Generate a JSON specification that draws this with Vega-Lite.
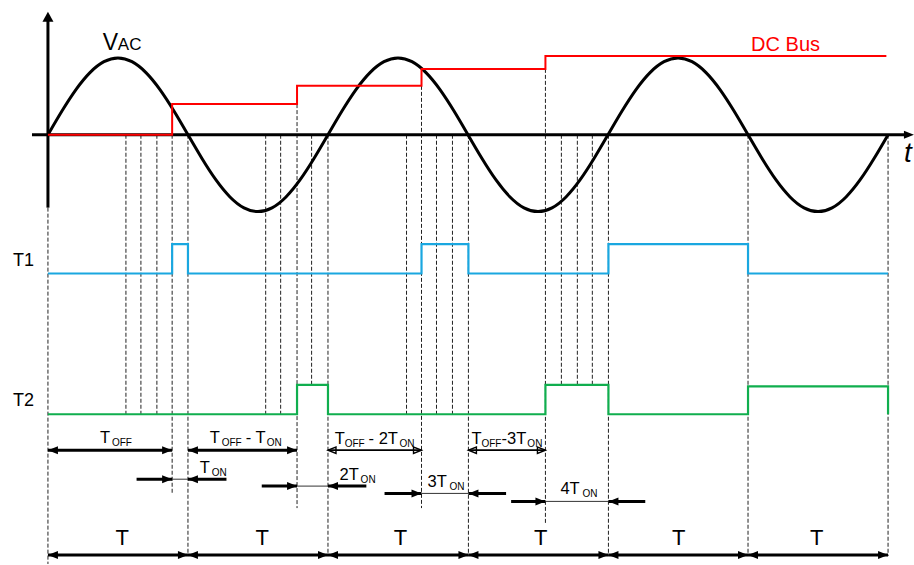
{
  "$schema": "https://vega.github.io/schema/vega-lite/v6.json",
  "width": 914,
  "height": 565,
  "padding": 0,
  "autosize": {"type": "fit", "contains": "padding"},
  "background": "white",
  "config": {"view": {"stroke": null}, "text": {"font": "Liberation Sans"}},
  "datasets": {
    "vlines": [
      {"t": 0, "v": -0.948, "v2": -5.584},
      {"t": 0.557, "v": 0, "v2": -3.636},
      {"t": 0.664, "v": 0, "v2": -3.636},
      {"t": 0.778, "v": 0, "v2": -3.636},
      {"t": 0.887, "v": 0, "v2": -4.662},
      {"t": 1.0, "v": 0, "v2": -5.481},
      {"t": 1.555, "v": 0, "v2": -3.636},
      {"t": 1.662, "v": 0, "v2": -3.636},
      {"t": 1.779, "v": 0.399, "v2": -4.857},
      {"t": 1.883, "v": 0, "v2": -3.253},
      {"t": 2.0, "v": 0, "v2": -5.481},
      {"t": 2.561, "v": 0, "v2": -3.636},
      {"t": 2.668, "v": 0.636, "v2": -4.857},
      {"t": 2.775, "v": 0, "v2": -3.636},
      {"t": 2.889, "v": 0, "v2": -3.636},
      {"t": 3.003, "v": 0, "v2": -5.481},
      {"t": 3.553, "v": 0.857, "v2": -5.065},
      {"t": 3.667, "v": 0, "v2": -3.253},
      {"t": 3.781, "v": 0, "v2": -3.253},
      {"t": 3.888, "v": 0, "v2": -3.253},
      {"t": 4.003, "v": 0, "v2": -5.481},
      {"t": 5.0, "v": 0, "v2": -5.481},
      {"t": 6.0, "v": 0, "v2": -5.481}
    ],
    "axes": [
      {"t": -0.114, "t2": 6.15, "v": 0, "v2": 0},
      {"t": 0, "t2": 0, "v": -0.948, "v2": 1.5}
    ],
    "sine": [
      {"t": 0.0, "v": 0}, {"t": 0.1, "v": 0.309}, {"t": 0.2, "v": 0.588}, {"t": 0.3, "v": 0.809}, {"t": 0.4, "v": 0.951},
      {"t": 0.5, "v": 1}, {"t": 0.6, "v": 0.951}, {"t": 0.7, "v": 0.809}, {"t": 0.8, "v": 0.588}, {"t": 0.9, "v": 0.309},
      {"t": 1.0, "v": 0}, {"t": 1.1, "v": -0.309}, {"t": 1.2, "v": -0.588}, {"t": 1.3, "v": -0.809}, {"t": 1.4, "v": -0.951},
      {"t": 1.5, "v": -1}, {"t": 1.6, "v": -0.951}, {"t": 1.7, "v": -0.809}, {"t": 1.8, "v": -0.588}, {"t": 1.9, "v": -0.309},
      {"t": 2.0, "v": 0}, {"t": 2.1, "v": 0.309}, {"t": 2.2, "v": 0.588}, {"t": 2.3, "v": 0.809}, {"t": 2.4, "v": 0.951},
      {"t": 2.5, "v": 1}, {"t": 2.6, "v": 0.951}, {"t": 2.7, "v": 0.809}, {"t": 2.8, "v": 0.588}, {"t": 2.9, "v": 0.309},
      {"t": 3.0, "v": 0}, {"t": 3.1, "v": -0.309}, {"t": 3.2, "v": -0.588}, {"t": 3.3, "v": -0.809}, {"t": 3.4, "v": -0.951},
      {"t": 3.5, "v": -1}, {"t": 3.6, "v": -0.951}, {"t": 3.7, "v": -0.809}, {"t": 3.8, "v": -0.588}, {"t": 3.9, "v": -0.309},
      {"t": 4.0, "v": 0}, {"t": 4.1, "v": 0.309}, {"t": 4.2, "v": 0.588}, {"t": 4.3, "v": 0.809}, {"t": 4.4, "v": 0.951},
      {"t": 4.5, "v": 1}, {"t": 4.6, "v": 0.951}, {"t": 4.7, "v": 0.809}, {"t": 4.8, "v": 0.588}, {"t": 4.9, "v": 0.309},
      {"t": 5.0, "v": 0}, {"t": 5.1, "v": -0.309}, {"t": 5.2, "v": -0.588}, {"t": 5.3, "v": -0.809}, {"t": 5.4, "v": -0.951},
      {"t": 5.5, "v": -1}, {"t": 5.6, "v": -0.951}, {"t": 5.7, "v": -0.809}, {"t": 5.8, "v": -0.588}, {"t": 5.9, "v": -0.309},
      {"t": 6.0, "v": 0}
    ],
    "t1": [
      {"i": 0, "t": 0, "v": -1.805}, {"i": 1, "t": 0.887, "v": -1.805}, {"i": 2, "t": 0.887, "v": -1.422},
      {"i": 3, "t": 1.0, "v": -1.422}, {"i": 4, "t": 1.0, "v": -1.805}, {"i": 5, "t": 2.668, "v": -1.805},
      {"i": 6, "t": 2.668, "v": -1.422}, {"i": 7, "t": 3.003, "v": -1.422}, {"i": 8, "t": 3.003, "v": -1.805},
      {"i": 9, "t": 4.003, "v": -1.805}, {"i": 10, "t": 4.003, "v": -1.422}, {"i": 11, "t": 5.0, "v": -1.422},
      {"i": 12, "t": 5.0, "v": -1.805}, {"i": 13, "t": 6.0, "v": -1.805}
    ],
    "t2": [
      {"i": 0, "t": 0, "v": -3.636}, {"i": 1, "t": 1.779, "v": -3.636}, {"i": 2, "t": 1.779, "v": -3.253},
      {"i": 3, "t": 2.0, "v": -3.253}, {"i": 4, "t": 2.0, "v": -3.636}, {"i": 5, "t": 3.553, "v": -3.636},
      {"i": 6, "t": 3.553, "v": -3.253}, {"i": 7, "t": 4.003, "v": -3.253}, {"i": 8, "t": 4.003, "v": -3.636},
      {"i": 9, "t": 5.0, "v": -3.636}, {"i": 10, "t": 5.0, "v": -3.273}, {"i": 11, "t": 6.0, "v": -3.273},
      {"i": 12, "t": 6.0, "v": -3.636}
    ],
    "bus": [
      {"i": 0, "t": 0, "v": 0}, {"i": 1, "t": 0.887, "v": 0}, {"i": 2, "t": 0.887, "v": 0.399},
      {"i": 3, "t": 1.779, "v": 0.399}, {"i": 4, "t": 1.779, "v": 0.636}, {"i": 5, "t": 2.668, "v": 0.636},
      {"i": 6, "t": 2.668, "v": 0.857}, {"i": 7, "t": 3.553, "v": 0.857}, {"i": 8, "t": 3.553, "v": 1.026},
      {"i": 9, "t": 5.988, "v": 1.026}
    ],
    "shafts": [
      {"t": 0, "t2": 0.887, "v": -4.104, "w": "thick"},
      {"t": 1.0, "t2": 1.779, "v": -4.104, "w": "thick"},
      {"t": 2.0, "t2": 2.668, "v": -4.104, "w": "med"},
      {"t": 3.003, "t2": 3.553, "v": -4.104, "w": "med"},
      {"t": 0.633, "t2": 0.887, "v": -4.481, "w": "thick"},
      {"t": 0.887, "t2": 1.0, "v": -4.481, "w": "thin"},
      {"t": 1.0, "t2": 1.275, "v": -4.481, "w": "thick"},
      {"t": 1.527, "t2": 1.779, "v": -4.571, "w": "thick"},
      {"t": 1.779, "t2": 2.0, "v": -4.571, "w": "thin"},
      {"t": 2.0, "t2": 2.274, "v": -4.571, "w": "thick"},
      {"t": 2.404, "t2": 2.668, "v": -4.666, "w": "thick"},
      {"t": 2.668, "t2": 3.003, "v": -4.666, "w": "thin"},
      {"t": 3.003, "t2": 3.272, "v": -4.666, "w": "thick"},
      {"t": 3.308, "t2": 3.553, "v": -4.770, "w": "thick"},
      {"t": 3.553, "t2": 4.003, "v": -4.770, "w": "thin"},
      {"t": 4.003, "t2": 4.266, "v": -4.770, "w": "thick"},
      {"t": 0, "t2": 1.0, "v": -5.468, "w": "thick"},
      {"t": 1.0, "t2": 2.0, "v": -5.468, "w": "thick"},
      {"t": 2.0, "t2": 3.003, "v": -5.468, "w": "thick"},
      {"t": 3.003, "t2": 4.003, "v": -5.468, "w": "thick"},
      {"t": 4.003, "t2": 5.0, "v": -5.468, "w": "thick"},
      {"t": 5.0, "t2": 6.0, "v": -5.468, "w": "thick"}
    ],
    "heads": [
      {"t": 0, "v": -4.104, "dir": "l"}, {"t": 0.887, "v": -4.104, "dir": "r"},
      {"t": 1.0, "v": -4.104, "dir": "l"}, {"t": 1.779, "v": -4.104, "dir": "r"},
      {"t": 0.887, "v": -4.481, "dir": "r"}, {"t": 1.0, "v": -4.481, "dir": "l"},
      {"t": 1.779, "v": -4.571, "dir": "r"}, {"t": 2.0, "v": -4.571, "dir": "l"},
      {"t": 2.668, "v": -4.666, "dir": "r"}, {"t": 3.003, "v": -4.666, "dir": "l"},
      {"t": 3.553, "v": -4.770, "dir": "r"}, {"t": 4.003, "v": -4.770, "dir": "l"},
      {"t": 0, "v": -5.468, "dir": "l"}, {"t": 1.0, "v": -5.468, "dir": "r"},
      {"t": 1.0, "v": -5.468, "dir": "l"}, {"t": 2.0, "v": -5.468, "dir": "r"},
      {"t": 2.0, "v": -5.468, "dir": "l"}, {"t": 3.003, "v": -5.468, "dir": "r"},
      {"t": 3.003, "v": -5.468, "dir": "l"}, {"t": 4.003, "v": -5.468, "dir": "r"},
      {"t": 4.003, "v": -5.468, "dir": "l"}, {"t": 5.0, "v": -5.468, "dir": "r"},
      {"t": 5.0, "v": -5.468, "dir": "l"}, {"t": 6.0, "v": -5.468, "dir": "r"},
      {"t": 0, "v": 1.601, "dir": "u"}, {"t": 6.185, "v": 0, "dir": "r"}
    ],
    "openheads": [
      {"t": 2.0, "v": -4.104, "dir": "l"}, {"t": 2.668, "v": -4.104, "dir": "r"},
      {"t": 3.003, "v": -4.104, "dir": "l"}, {"t": 3.553, "v": -4.104, "dir": "r"}
    ],
    "labels": [
      {"t": 0.371, "v": -4.013, "text": "T", "role": "main"},
      {"t": 0.457, "v": -4.052, "text": "OFF", "role": "sub"},
      {"t": 1.156, "v": -4.013, "text": "T", "role": "main"},
      {"t": 1.241, "v": -4.052, "text": "OFF", "role": "sub"},
      {"t": 1.413, "v": -4.013, "text": "- T", "role": "main"},
      {"t": 1.562, "v": -4.052, "text": "ON", "role": "sub"},
      {"t": 2.048, "v": -4.026, "text": "T", "role": "main"},
      {"t": 2.119, "v": -4.065, "text": "OFF", "role": "sub"},
      {"t": 2.290, "v": -4.026, "text": "- 2T", "role": "main"},
      {"t": 2.511, "v": -4.065, "text": "ON", "role": "sub"},
      {"t": 3.025, "v": -4.026, "text": "T", "role": "main"},
      {"t": 3.096, "v": -4.065, "text": "OFF", "role": "sub"},
      {"t": 3.239, "v": -4.026, "text": "-3T", "role": "main"},
      {"t": 3.424, "v": -4.065, "text": "ON", "role": "sub"},
      {"t": 1.084, "v": -4.403, "text": "T", "role": "main"},
      {"t": 1.170, "v": -4.442, "text": "ON", "role": "sub"},
      {"t": 2.083, "v": -4.494, "text": "2T", "role": "main"},
      {"t": 2.233, "v": -4.532, "text": "ON", "role": "sub"},
      {"t": 2.711, "v": -4.584, "text": "3T", "role": "main"},
      {"t": 2.868, "v": -4.623, "text": "ON", "role": "sub"},
      {"t": 3.660, "v": -4.675, "text": "4T", "role": "main"},
      {"t": 3.817, "v": -4.714, "text": "ON", "role": "sub"},
      {"t": -0.250, "v": -1.701, "text": "T1", "role": "name"},
      {"t": -0.250, "v": -3.532, "text": "T2", "role": "name"},
      {"t": 0.392, "v": 1.104, "text": "V", "role": "vbig"},
      {"t": 0.499, "v": 1.104, "text": "AC", "role": "vsub"}
    ],
    "periods": [
      {"t": 0.531, "v": -5.338, "text": "T"},
      {"t": 1.53, "v": -5.338, "text": "T"},
      {"t": 2.518, "v": -5.338, "text": "T"},
      {"t": 3.52, "v": -5.338, "text": "T"},
      {"t": 4.505, "v": -5.338, "text": "T"},
      {"t": 5.49, "v": -5.338, "text": "T"}
    ],
    "bustext": [{"t": 5.022, "v": 1.091, "text": "DC Bus"}],
    "taxis": [{"t": 6.114, "v": -0.351, "text": "t"}]
  },
  "encoding": {
    "x": {"field": "t", "type": "quantitative", "scale": {"domain": [-0.34244, 6.17821], "nice": false, "zero": false}, "axis": null},
    "y": {"field": "v", "type": "quantitative", "scale": {"domain": [-5.5844, 1.7532], "nice": false, "zero": false}, "axis": null}
  },
  "layer": [
    {
      "data": {"name": "vlines"},
      "mark": {"type": "rule", "color": "#222222", "strokeWidth": 1, "strokeDash": [4, 2]},
      "encoding": {"y2": {"field": "v2"}}
    },
    {
      "data": {"name": "axes"},
      "mark": {"type": "rule", "color": "black", "strokeWidth": 3},
      "encoding": {"x2": {"field": "t2"}, "y2": {"field": "v2"}}
    },
    {
      "data": {"name": "sine"},
      "mark": {"type": "line", "color": "black", "strokeWidth": 3, "interpolate": "natural"},
      "encoding": {}
    },
    {
      "data": {"name": "t1"},
      "mark": {"type": "line", "color": "#1AA7E0", "strokeWidth": 2.2},
      "encoding": {"order": {"field": "i", "type": "quantitative"}}
    },
    {
      "data": {"name": "t2"},
      "mark": {"type": "line", "color": "#10AE4E", "strokeWidth": 2.2},
      "encoding": {"order": {"field": "i", "type": "quantitative"}}
    },
    {
      "data": {"name": "bus"},
      "mark": {"type": "line", "color": "#FF0000", "strokeWidth": 2},
      "encoding": {"order": {"field": "i", "type": "quantitative"}}
    },
    {
      "data": {"name": "shafts"},
      "transform": [{"filter": "datum.w == 'thick'"}],
      "mark": {"type": "rule", "color": "black", "strokeWidth": 3},
      "encoding": {"x2": {"field": "t2"}}
    },
    {
      "data": {"name": "shafts"},
      "transform": [{"filter": "datum.w == 'med'"}],
      "mark": {"type": "rule", "color": "black", "strokeWidth": 1.8},
      "encoding": {"x2": {"field": "t2"}}
    },
    {
      "data": {"name": "shafts"},
      "transform": [{"filter": "datum.w == 'thin'"}],
      "mark": {"type": "rule", "color": "#333333", "strokeWidth": 1},
      "encoding": {"x2": {"field": "t2"}}
    },
    {
      "data": {"name": "heads"},
      "mark": {"type": "point", "filled": true, "color": "black", "opacity": 1, "size": 100, "strokeWidth": 0},
      "encoding": {
        "shape": {"field": "dir", "type": "nominal", "scale": {"domain": ["r", "l", "u"], "range": ["M0,0L-2,-0.8L-2,0.8Z", "M0,0L2,-0.8L2,0.8Z", "M0,0L-1.1,2L1.1,2Z"]}, "legend": null}
      }
    },
    {
      "data": {"name": "openheads"},
      "mark": {"type": "point", "filled": false, "color": "black", "opacity": 1, "size": 64, "strokeWidth": 1.4},
      "encoding": {
        "shape": {"field": "dir", "type": "nominal", "scale": {"domain": ["r", "l"], "range": ["M-1.25,-1L0,0L-1.25,1", "M1.25,-1L0,0L1.25,1"]}, "legend": null}
      }
    },
    {
      "data": {"name": "labels"},
      "transform": [{"filter": "datum.role == 'main'"}],
      "mark": {"type": "text", "align": "left", "baseline": "alphabetic", "color": "black", "fontSize": 16.5, "font": "Liberation Sans"},
      "encoding": {"text": {"field": "text"}}
    },
    {
      "data": {"name": "labels"},
      "transform": [{"filter": "datum.role == 'sub'"}],
      "mark": {"type": "text", "align": "left", "baseline": "alphabetic", "color": "black", "fontSize": 10, "font": "Liberation Sans"},
      "encoding": {"text": {"field": "text"}}
    },
    {
      "data": {"name": "labels"},
      "transform": [{"filter": "datum.role == 'name'"}],
      "mark": {"type": "text", "align": "left", "baseline": "alphabetic", "color": "black", "fontSize": 18, "font": "Liberation Sans"},
      "encoding": {"text": {"field": "text"}}
    },
    {
      "data": {"name": "labels"},
      "transform": [{"filter": "datum.role == 'vbig'"}],
      "mark": {"type": "text", "align": "left", "baseline": "alphabetic", "color": "black", "fontSize": 23, "font": "Liberation Sans"},
      "encoding": {"text": {"field": "text"}}
    },
    {
      "data": {"name": "labels"},
      "transform": [{"filter": "datum.role == 'vsub'"}],
      "mark": {"type": "text", "align": "left", "baseline": "alphabetic", "color": "black", "fontSize": 17, "font": "Liberation Sans"},
      "encoding": {"text": {"field": "text"}}
    },
    {
      "data": {"name": "periods"},
      "mark": {"type": "text", "align": "center", "baseline": "alphabetic", "color": "black", "fontSize": 22, "font": "Liberation Sans"},
      "encoding": {"text": {"field": "text"}}
    },
    {
      "data": {"name": "bustext"},
      "mark": {"type": "text", "align": "left", "baseline": "alphabetic", "color": "#FF0000", "fontSize": 20, "font": "Liberation Sans"},
      "encoding": {"text": {"field": "text"}}
    },
    {
      "data": {"name": "taxis"},
      "mark": {"type": "text", "align": "left", "baseline": "alphabetic", "color": "black", "fontSize": 28, "fontStyle": "italic", "font": "Liberation Sans"},
      "encoding": {"text": {"field": "text"}}
    }
  ]
}
